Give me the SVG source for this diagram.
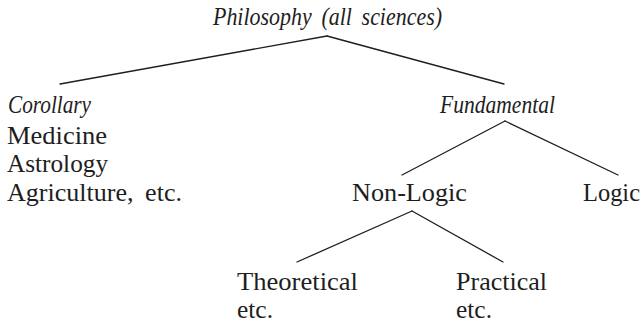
<svg xmlns="http://www.w3.org/2000/svg" width="644" height="326" viewBox="0 0 644 326">
<style>
.t{font-size:26px;fill:#1e1e1e}
.i{font-style:italic}
.w{word-spacing:5px}
.e line{stroke:#1e1e1e;stroke-width:1.3;stroke-linecap:round}
</style>
<rect width="644" height="326" fill="#fff"/>
<g font-family="Liberation Serif, DejaVu Serif, serif" class="t">
<g id="philosophy"><text class="i w" x="213" y="25" textLength="229" lengthAdjust="spacingAndGlyphs">Philosophy (all sciences)</text></g>
<g id="corollary">
<text class="i" x="8" y="112.5" textLength="83" lengthAdjust="spacingAndGlyphs">Corollary</text>
<text x="7" y="143.5" textLength="100" lengthAdjust="spacingAndGlyphs">Medicine</text>
<text x="7" y="171.5" textLength="101" lengthAdjust="spacingAndGlyphs">Astrology</text>
<text class="w" x="7" y="200.5" textLength="175" lengthAdjust="spacingAndGlyphs">Agriculture, etc.</text>
</g>
<g id="fundamental"><text class="i" x="440" y="112.5" textLength="115" lengthAdjust="spacingAndGlyphs">Fundamental</text></g>
<g id="nonlogic"><text x="352" y="201" textLength="115" lengthAdjust="spacingAndGlyphs">Non-Logic</text></g>
<g id="logic"><text x="583" y="201" textLength="57" lengthAdjust="spacingAndGlyphs">Logic</text></g>
<g id="theoretical"><text x="237" y="290" textLength="121" lengthAdjust="spacingAndGlyphs">Theoretical</text><text x="237" y="318" textLength="36" lengthAdjust="spacingAndGlyphs">etc.</text></g>
<g id="practical"><text x="456" y="290" textLength="91" lengthAdjust="spacingAndGlyphs">Practical</text><text x="456" y="318" textLength="36" lengthAdjust="spacingAndGlyphs">etc.</text></g>
</g>
<g id="connectors" class="e">
<line x1="327" y1="36" x2="60" y2="84"/>
<line x1="327" y1="36" x2="504" y2="84"/>
<line x1="505" y1="121" x2="402" y2="175"/>
<line x1="505" y1="121" x2="618" y2="175"/>
<line x1="412" y1="211" x2="297" y2="262"/>
<line x1="412" y1="211" x2="503" y2="262"/>
</g>
</svg>
